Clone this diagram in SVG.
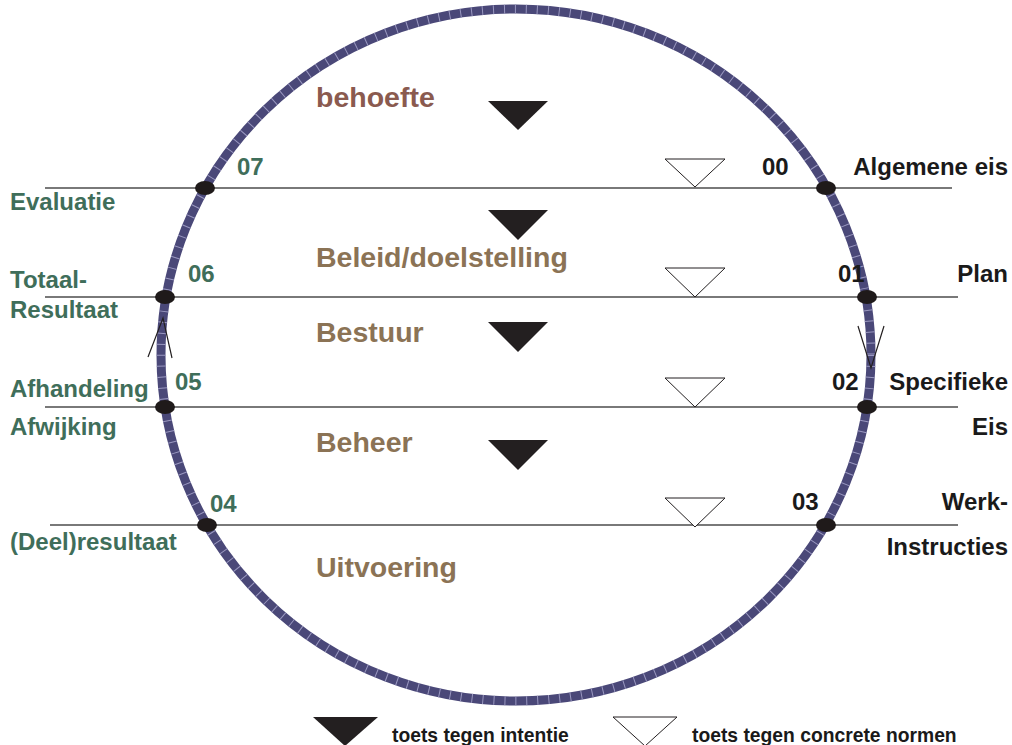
<svg xmlns="http://www.w3.org/2000/svg" width="1012" height="745" viewBox="0 0 1012 745">
  <style>
    .rule { stroke: #4d4d4d; stroke-width: 1.3; fill: none; }
    .dot { fill: #1f1a1a; }
    .tri-fill { fill: #231f20; }
    .tri-open { fill: #ffffff; stroke: #231f20; stroke-width: 1; }
    .ptr { stroke: #231f20; stroke-width: 1.2; fill: none; }
    .phase { font-family: "Liberation Sans", Arial, sans-serif; font-size: 28.5px; font-weight: bold; fill: #8b7355; }
    .in { font-family: "Liberation Sans", Arial, sans-serif; font-size: 24px; font-weight: bold; fill: #3f6e5a; }
    .out { font-family: "Liberation Sans", Arial, sans-serif; font-size: 24px; font-weight: bold; fill: #1a1a1a; }
    .legend { font-family: "Liberation Sans", Arial, sans-serif; font-size: 19.3px; font-weight: bold; fill: #1a1a1a; }
  </style>
  <rect width="1012" height="745" fill="#ffffff"/>

  <!-- cycle ring -->
  <g id="ring">
    <ellipse cx="516" cy="355" rx="355" ry="346" fill="none" stroke="#4a4878" stroke-width="9"/>
    <ellipse cx="516" cy="355" rx="355" ry="346" fill="none" stroke="#9a98c0" stroke-width="9" stroke-dasharray="1 10"/>
  </g>

  <!-- level rules -->
  <g id="connectors">
    <line class="rule" x1="45" y1="188" x2="952" y2="188"/>
    <line class="rule" x1="45" y1="297" x2="958" y2="297"/>
    <line class="rule" x1="45" y1="407" x2="958" y2="407"/>
    <line class="rule" x1="50" y1="525" x2="958" y2="525"/>
    <!-- direction marks on the ring -->
    <polyline class="ptr" points="148,357 163,318 172,358"/>
    <polyline class="ptr" points="858,326 871,368 884,326"/>
  </g>

  <!-- ring nodes -->
  <g id="nodes">
    <ellipse class="dot" cx="205" cy="188" rx="10" ry="7"/>
    <ellipse class="dot" cx="826" cy="188" rx="10" ry="7"/>
    <ellipse class="dot" cx="165" cy="297" rx="10" ry="7"/>
    <ellipse class="dot" cx="867" cy="297" rx="10" ry="7"/>
    <ellipse class="dot" cx="165" cy="407" rx="10" ry="7"/>
    <ellipse class="dot" cx="867" cy="407" rx="10" ry="7"/>
    <ellipse class="dot" cx="207" cy="525" rx="10" ry="7"/>
    <ellipse class="dot" cx="826" cy="525" rx="10" ry="7"/>
  </g>

  <!-- intention checks -->
  <g id="checks-intent">
    <polygon class="tri-fill" points="488,101 548,101 518,130"/>
    <polygon class="tri-fill" points="488,210 548,210 518,240"/>
    <polygon class="tri-fill" points="488,322 548,322 518,352"/>
    <polygon class="tri-fill" points="488,440 548,440 518,470"/>
  </g>

  <!-- norm checks -->
  <g id="checks-norm">
    <polygon class="tri-open" points="665,159 725,159 695,187"/>
    <polygon class="tri-open" points="665,268 725,268 695,297"/>
    <polygon class="tri-open" points="665,378 725,378 695,407"/>
    <polygon class="tri-open" points="665,498 725,498 695,527"/>
  </g>

  <!-- phases -->
  <g id="phases">
    <text class="phase" x="316" y="107" style="fill:#8a5a4f">behoefte</text>
    <text class="phase" x="316" y="267">Beleid/doelstelling</text>
    <text class="phase" x="316" y="342">Bestuur</text>
    <text class="phase" x="316" y="452">Beheer</text>
    <text class="phase" x="316" y="577">Uitvoering</text>
  </g>

  <!-- outgoing side -->
  <g id="out-labels">
    <text class="out" x="762" y="175">00</text>
    <text class="out" x="838" y="282">01</text>
    <text class="out" x="832" y="390">02</text>
    <text class="out" x="792" y="510">03</text>
    <text class="out" x="1008" y="175" text-anchor="end">Algemene eis</text>
    <text class="out" x="1008" y="282" text-anchor="end">Plan</text>
    <text class="out" x="1008" y="390" text-anchor="end">Specifieke</text>
    <text class="out" x="1008" y="435" text-anchor="end">Eis</text>
    <text class="out" x="1008" y="510" text-anchor="end">Werk-</text>
    <text class="out" x="1008" y="555" text-anchor="end">Instructies</text>
  </g>

  <!-- return side -->
  <g id="in-labels">
    <text class="in" x="237" y="175">07</text>
    <text class="in" x="188" y="282">06</text>
    <text class="in" x="175" y="390">05</text>
    <text class="in" x="210" y="512">04</text>
    <text class="in" x="10" y="210">Evaluatie</text>
    <text class="in" x="10" y="288">Totaal-</text>
    <text class="in" x="10" y="318">Resultaat</text>
    <text class="in" x="10" y="397">Afhandeling</text>
    <text class="in" x="10" y="435">Afwijking</text>
    <text class="in" x="10" y="550">(Deel)resultaat</text>
  </g>

  <!-- legend -->
  <g id="legend">
    <polygon class="tri-fill" points="313,717 378,717 345,746"/>
    <text class="legend" x="392" y="742">toets tegen intentie</text>
    <polygon class="tri-open" points="613,717 677,717 645,746"/>
    <text class="legend" x="692" y="742">toets tegen concrete normen</text>
  </g>
</svg>
